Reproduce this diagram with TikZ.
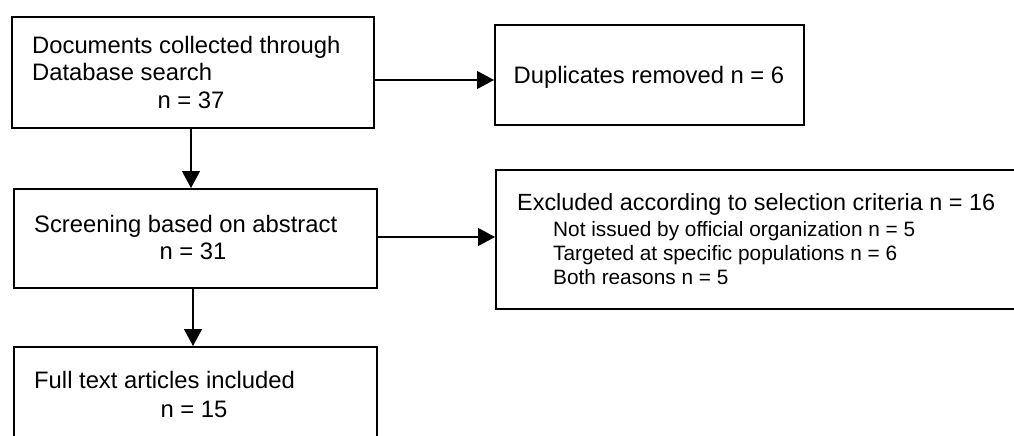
\documentclass[tikz,border=0pt]{standalone}
\usepackage{fontspec}
\setmainfont{Liberation Sans}
\usetikzlibrary{arrows.meta}
\begin{document}
\begin{tikzpicture}[x=1pt,y=-1pt,
  box/.style={draw=black, line width=2pt, fill=white, anchor=north west, inner sep=0pt},
  txt/.style={inner sep=0pt, font=\fontsize{23.8}{27}\selectfont},
  hdtxt/.style={inner sep=0pt, font=\fontsize{23.4}{27}\selectfont},
  subtxt/.style={inner sep=0pt, font=\fontsize{20.8}{24}\selectfont},
  arr/.style={line width=1.3pt, -{Triangle[length=17pt,width=18pt]}}]
\useasboundingbox (0,0) rectangle (1014,436);
\clip (0,0) rectangle (1014,436);
% boxes
\node[box, minimum width=362, minimum height=111] (b1) at (11,16) {};
\node[box, minimum width=309, minimum height=100] (b2) at (494,24) {};
\node[box, minimum width=363, minimum height=99] (b3) at (13,188) {};
\node[box, minimum width=525, minimum height=139] (b4) at (495,169) {};
\node[box, minimum width=363, minimum height=110] (b5) at (13,346) {};
% texts
\node[txt, anchor=base west] (t1a) at (32,53) {Documents collected through};
\node[txt, anchor=base west] (t1b) at (32,80) {Database search};
\node[txt, anchor=base] (t1c) at (191,108) {n = 37};
\node[txt, anchor=base] (t2) at (649,83) {Duplicates removed n = 6};
\node[txt, anchor=base west] (t3a) at (34,232) {Screening based on abstract};
\node[txt, anchor=base] (t3b) at (193,259) {n = 31};
\node[hdtxt, anchor=base west] (t4a) at (517,210) {Excluded according to selection criteria n = 16};
\node[subtxt, anchor=base west] (t4b) at (553,236) {Not issued by official organization n = 5};
\node[subtxt, anchor=base west] (t4c) at (553,260) {Targeted at specific populations n = 6};
\node[subtxt, anchor=base west] (t4d) at (553,284) {Both reasons n = 5};
\node[txt, anchor=base west] (t5a) at (34,388) {Full text articles included};
\node[txt, anchor=base] (t5b) at (194,417) {n = 15};
% connectors
\coordinate (y1) at (0,80);
\coordinate (y2) at (0,237);
\coordinate (x1) at (191,0);
\coordinate (x2) at (193,0);
\draw[arr] (b1.east |- y1) -- (b2.west |- y1);
\draw[arr] (b3.east |- y2) -- (b4.west |- y2);
\draw[arr] (b1.south -| x1) -- (b3.north -| x1);
\draw[arr] (b3.south -| x2) -- (b5.north -| x2);
\end{tikzpicture}
\end{document}
